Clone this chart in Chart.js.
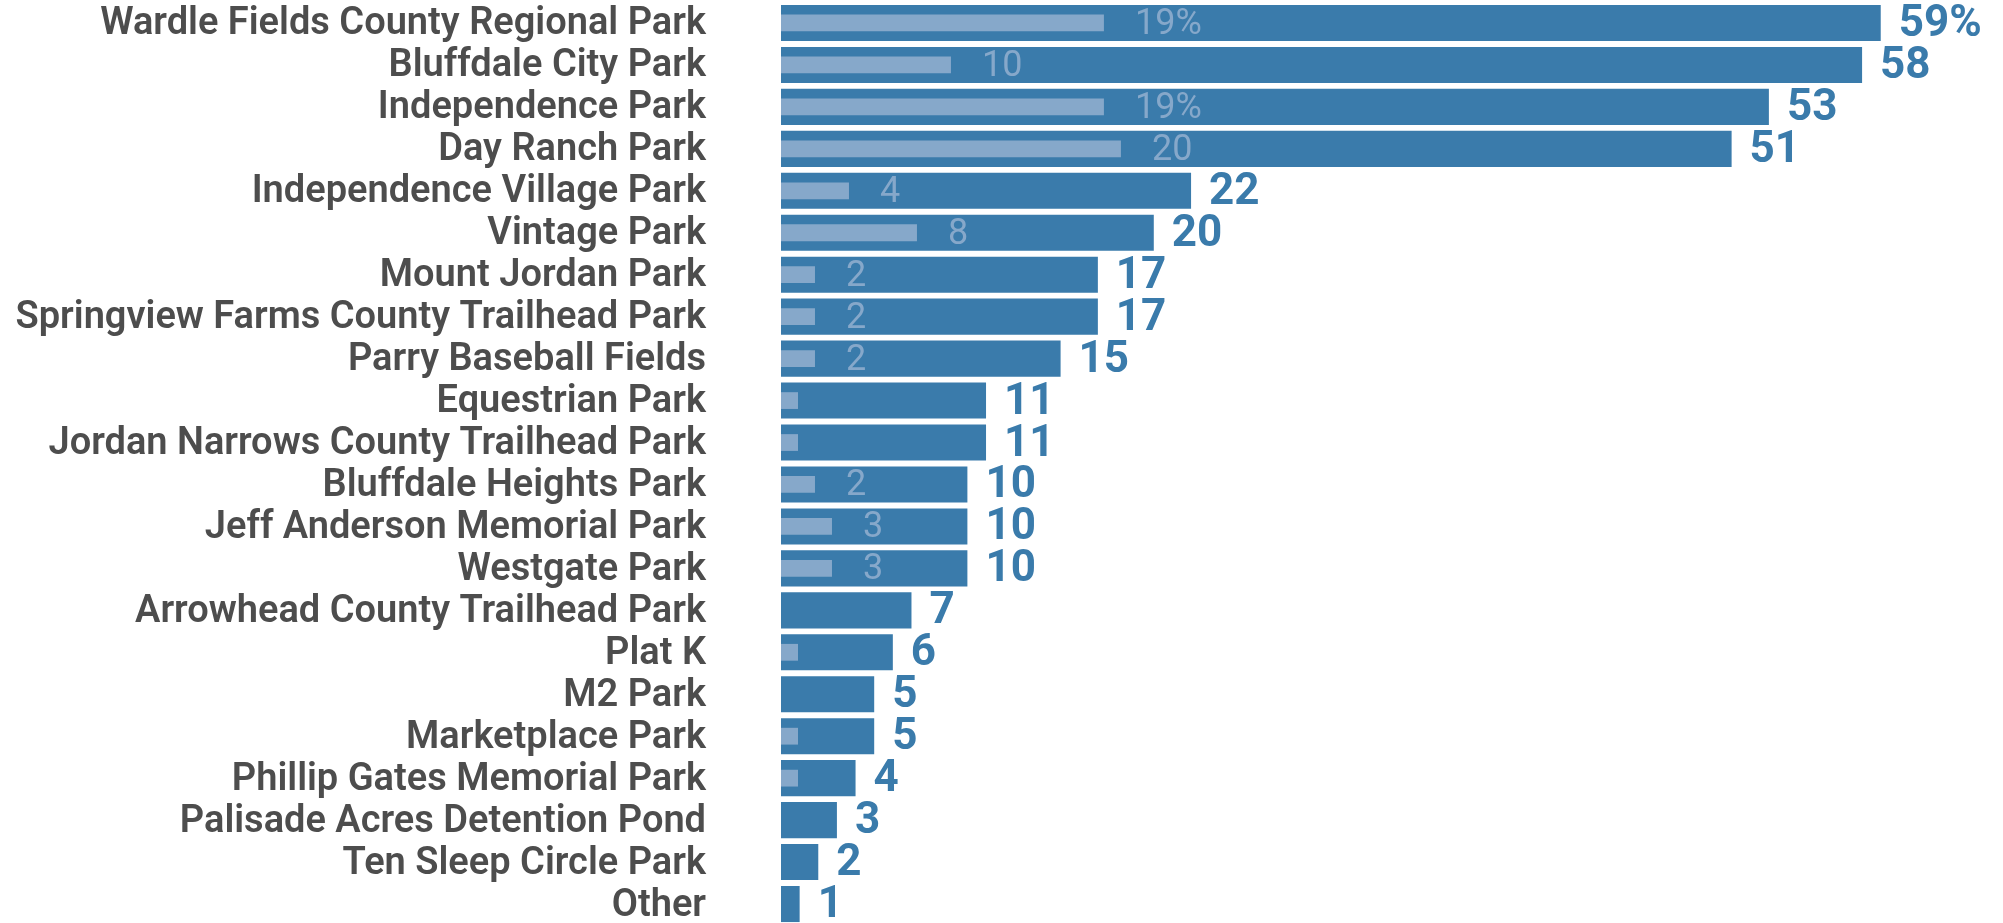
<!DOCTYPE html>
<html>
<head>
<meta charset="utf-8">
<script src="https://cdn.jsdelivr.net/npm/chart.js@4/dist/chart.umd.min.js"></script>
<style>
  html, body { margin: 0; padding: 0; background: #fff; overflow: hidden; }
  #wrap { position: relative; width: 2003px; height: 925px; }
</style>
</head>
<body>
<div id="wrap"><canvas id="parkChart"></canvas></div>
<script>
// 公園ごとの件数
const parks = [
  "Wardle Fields County Regional Park", "Bluffdale City Park", "Independence Park",
  "Day Ranch Park", "Independence Village Park", "Vintage Park", "Mount Jordan Park",
  "Springview Farms County Trailhead Park", "Parry Baseball Fields", "Equestrian Park",
  "Jordan Narrows County Trailhead Park", "Bluffdale Heights Park", "Jeff Anderson Memorial Park",
  "Westgate Park", "Arrowhead County Trailhead Park", "Plat K", "M2 Park", "Marketplace Park",
  "Phillip Gates Memorial Park", "Palisade Acres Detention Pond", "Ten Sleep Circle Park", "Other"
];
const totals = [59, 58, 53, 51, 22, 20, 17, 17, 15, 11, 11, 10, 10, 10, 7, 6, 5, 5, 4, 3, 2, 1];
const subset = [19, 10, 19, 20, 4, 8, 2, 2, 2, 1, 1, 2, 3, 3, null, 1, null, 1, 1, null, null, null];
// rows whose label carries a % sign
const totalsPct = [0];
const subsetPct = [0, 2];

const dark = "rgb(58, 123, 171)";
const light = "rgb(134, 168, 202)";

// 値ラベル
const valueLabels = {
  id: "valueLabels",
  afterDatasetsDraw(chart) {
    const ctx = chart.ctx;
    ctx.save();
    ctx.textBaseline = "middle";
    ctx.textAlign = "left";
    chart.data.datasets.forEach((ds, di) => {
      const meta = chart.getDatasetMeta(di);
      meta.data.forEach((bar, i) => {
        const v = ds.data[i];
        if (v == null) return;
        if (di === 0) {
          ctx.font = "bold 44px Roboto";
          ctx.fillStyle = dark;
          ctx.fillText(v + (totalsPct.includes(i) ? "%" : ""), bar.x + 18, bar.y + 2);
        } else {
          if (v < 2) return;
          ctx.font = "36px Roboto";
          ctx.fillStyle = light;
          ctx.fillText(v + (subsetPct.includes(i) ? "%" : ""), bar.x + 31, bar.y + 2);
        }
      });
    });
    ctx.restore();
  }
};

new Chart(document.getElementById("parkChart"), {
  type: "bar",
  data: {
    labels: parks,
    datasets: [
      {
        data: totals,
        xAxisID: "x",
        backgroundColor: dark,
        barPercentage: 0.86,
        categoryPercentage: 1,
        grouped: false,
        order: 2
      },
      {
        data: subset,
        xAxisID: "x2",
        backgroundColor: light,
        barPercentage: 0.4,
        categoryPercentage: 1,
        grouped: false,
        order: 1
      }
    ]
  },
  options: {
    indexAxis: "y",
    responsive: true,
    maintainAspectRatio: false,
    animation: false,
    layout: { padding: { top: 2, right: 0, bottom: 0, left: 0 } },
    scales: {
      x: { display: false, min: 0, max: 65.56 },
      x2: { display: false, min: 0, max: 71.9 },
      y: {
        grid: { display: false, drawTicks: false },
        border: { display: false },
        afterFit(scale) {
          scale.width = 781;
          scale.paddingTop = 0;
          scale.paddingBottom = 0;
        },
        ticks: {
          autoSkip: false,
          padding: 75,
          labelOffset: 2,
          color: "#4d4d4d",
          font: { family: "Roboto", size: 38, weight: "600" }
        }
      }
    },
    plugins: {
      legend: { display: false },
      tooltip: { enabled: false }
    }
  },
  plugins: [valueLabels]
});
</script>
</body>
</html>
